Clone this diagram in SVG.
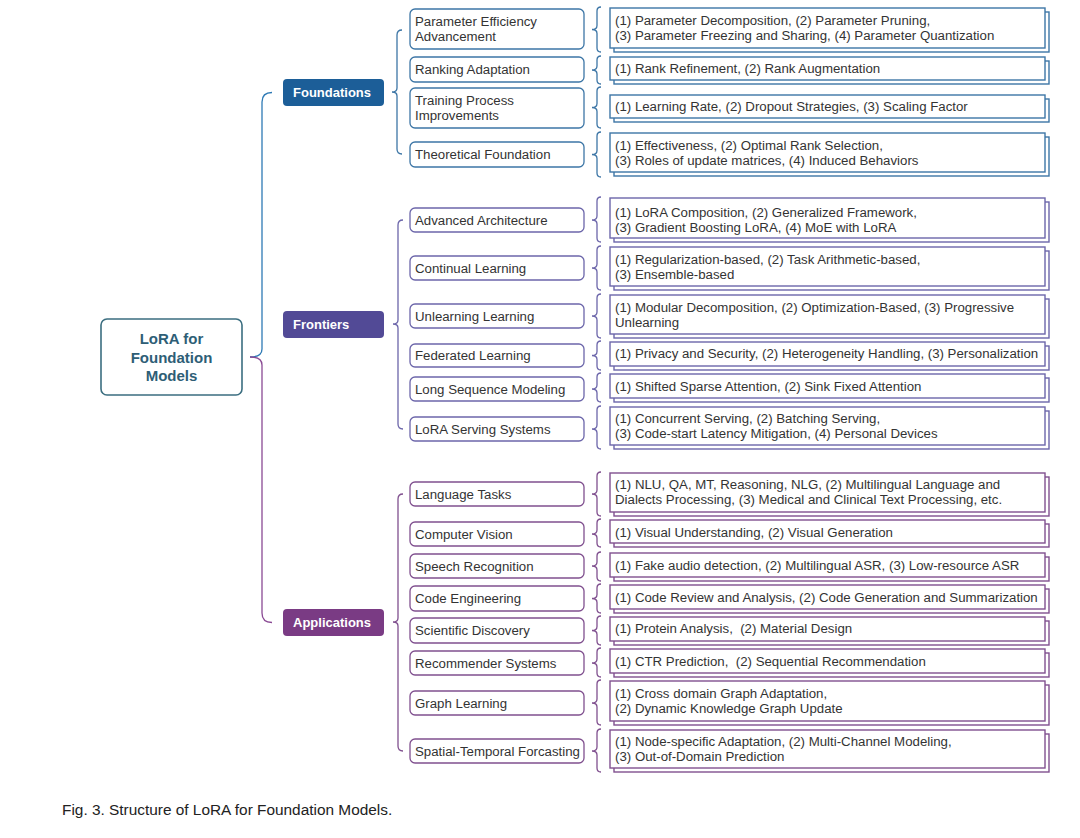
<svg xmlns="http://www.w3.org/2000/svg" width="1080" height="838" viewBox="0 0 1080 838">
<style>
text{font-family:"Liberation Sans",Arial,sans-serif;white-space:pre}
.bg{fill:#ffffff}
.t{font-size:13.25px;fill:#333333}
.cat{font-size:13px;font-weight:bold;fill:#ffffff}
.root{font-size:15px;font-weight:bold;fill:#2e5e76}
.cap{font-size:15.4px;fill:#222222}
.br{fill:none;stroke-width:1.3}
.sub{fill:#ffffff;stroke-width:1.3}
.det{fill:#ffffff;stroke-width:1.4}
.F .br,.F .sub,.F .det{stroke:#3d76a6}
.R .br,.R .sub,.R .det{stroke:#6c66aa}
.A .br,.A .sub,.A .det{stroke:#80508f}
</style>
<rect class="bg" x="0" y="0" width="1080" height="838"/>

<g id="connectors">
  <path class="br" stroke="#2e7ab5" d="M272 92.5 Q262 92.5 262 102 V349 Q262 357 250 357"/>
  <path class="br" stroke="#8a4a94" d="M250 357 Q262 357 262 365 V613 Q262 622.5 272 622.5"/>
  <g class="F">
    <path class="br" d="M402 30 Q397 30 397 35 V88 Q397 92 392 92 Q397 92 397 96 V149 Q397 154 402 154"/>
    <path class="br" d="M601 7 Q597 7 597 11 V25.5 Q597 29.5 592 29.5 Q597 29.5 597 33.5 V48 Q597 52 601 52"/>
    <path class="br" d="M601 56 Q597 56 597 60 V66 Q597 70 592 70 Q597 70 597 74 V80 Q597 84 601 84"/>
    <path class="br" d="M601 87 Q597 87 597 91 V103.5 Q597 107.5 592 107.5 Q597 107.5 597 111.5 V124 Q597 128 601 128"/>
    <path class="br" d="M601 132 Q597 132 597 136 V150.5 Q597 154.5 592 154.5 Q597 154.5 597 158.5 V173 Q597 177 601 177"/>
  </g>
  <g class="R">
    <path class="br" d="M403 220 Q398 220 398 225 V320 Q398 324 393 324 Q398 324 398 328 V424 Q398 429 403 429"/>
    <path class="br" d="M601 197 Q597 197 597 201 V216 Q597 220 592 220 Q597 220 597 224 V238 Q597 242 601 242"/>
    <path class="br" d="M601 246 Q597 246 597 250 V264 Q597 268 592 268 Q597 268 597 272 V286 Q597 290 601 290"/>
    <path class="br" d="M601 294 Q597 294 597 298 V312 Q597 316 592 316 Q597 316 597 320 V334 Q597 338 601 338"/>
    <path class="br" d="M601 341 Q597 341 597 345 V351.5 Q597 355.5 592 355.5 Q597 355.5 597 359.5 V366 Q597 370 601 370"/>
    <path class="br" d="M601 373 Q597 373 597 377 V385 Q597 389 592 389 Q597 389 597 393 V398 Q597 402 601 402"/>
    <path class="br" d="M601 406 Q597 406 597 410 V425 Q597 429 592 429 Q597 429 597 433 V445 Q597 449 601 449"/>
  </g>
  <g class="A">
    <path class="br" d="M403 494 Q398 494 398 499 V618 Q398 622 393 622 Q398 622 398 626 V746 Q398 751 403 751"/>
    <path class="br" d="M601 472 Q597 472 597 476 V490 Q597 494 592 494 Q597 494 597 498 V512 Q597 516 601 516"/>
    <path class="br" d="M601 519 Q597 519 597 523 V530 Q597 534 592 534 Q597 534 597 538 V543 Q597 547 601 547"/>
    <path class="br" d="M601 552 Q597 552 597 556 V562 Q597 566 592 566 Q597 566 597 570 V577 Q597 581 601 581"/>
    <path class="br" d="M601 584 Q597 584 597 588 V594.5 Q597 598.5 592 598.5 Q597 598.5 597 602.5 V609 Q597 613 601 613"/>
    <path class="br" d="M601 616 Q597 616 597 620 V626.5 Q597 630.5 592 630.5 Q597 630.5 597 634.5 V641 Q597 645 601 645"/>
    <path class="br" d="M601 648 Q597 648 597 652 V659 Q597 663 592 663 Q597 663 597 667 V673 Q597 677 601 677"/>
    <path class="br" d="M601 680 Q597 680 597 684 V699 Q597 703 592 703 Q597 703 597 707 V721 Q597 725 601 725"/>
    <path class="br" d="M601 729 Q597 729 597 733 V747 Q597 751 592 751 Q597 751 597 755 V768 Q597 772 601 772"/>
  </g>
</g>

<g id="root">
  <rect x="101" y="319" width="141" height="76" rx="6" fill="#ffffff" stroke="#3b6e80" stroke-width="1.6"/>
  <text class="root" x="171.5" y="344" text-anchor="middle">LoRA for</text>
  <text class="root" x="171.5" y="362.5" text-anchor="middle">Foundation</text>
  <text class="root" x="171.5" y="381" text-anchor="middle">Models</text>
</g>

<g id="cat-foundations"><rect x="283" y="79" width="101" height="27" rx="4" fill="#1c5e98"/><text class="cat" x="293" y="96.5">Foundations</text></g>
<g id="cat-frontiers"><rect x="283" y="311" width="101" height="27" rx="4" fill="#524a96"/><text class="cat" x="293" y="328.5">Frontiers</text></g>
<g id="cat-applications"><rect x="283" y="609" width="101" height="27" rx="4" fill="#7a3b84"/><text class="cat" x="293" y="626.5">Applications</text></g>

<g class="F">
  <g id="sub-pea"><rect class="sub" x="410" y="9" width="174" height="40" rx="5"/><text class="t" x="415" y="26">Parameter Efficiency</text><text class="t" x="415" y="41">Advancement</text></g>
  <g id="det-pea"><rect class="det" x="614" y="12" width="435" height="40"/><rect class="det" x="610" y="8" width="435" height="40"/><text class="t" x="615" y="25">(1) Parameter Decomposition, (2) Parameter Pruning,</text><text class="t" x="615" y="40">(3) Parameter Freezing and Sharing, (4) Parameter Quantization</text></g>
  <g id="sub-rank"><rect class="sub" x="410" y="57" width="174" height="25" rx="5"/><text class="t" x="415" y="74">Ranking Adaptation</text></g>
  <g id="det-rank"><rect class="det" x="614" y="61" width="435" height="23"/><rect class="det" x="610" y="57" width="435" height="23"/><text class="t" x="615" y="73">(1) Rank Refinement, (2) Rank Augmentation</text></g>
  <g id="sub-train"><rect class="sub" x="410" y="88" width="174" height="40" rx="5"/><text class="t" x="415" y="105">Training Process</text><text class="t" x="415" y="120">Improvements</text></g>
  <g id="det-train"><rect class="det" x="614" y="99" width="435" height="23"/><rect class="det" x="610" y="95" width="435" height="23"/><text class="t" x="615" y="111">(1) Learning Rate, (2) Dropout Strategies, (3) Scaling Factor</text></g>
  <g id="sub-theory"><rect class="sub" x="410" y="142" width="174" height="25" rx="5"/><text class="t" x="415" y="159">Theoretical Foundation</text></g>
  <g id="det-theory"><rect class="det" x="614" y="137" width="435" height="39"/><rect class="det" x="610" y="133" width="435" height="39"/><text class="t" x="615" y="150">(1) Effectiveness, (2) Optimal Rank Selection,</text><text class="t" x="615" y="165">(3) Roles of update matrices, (4) Induced Behaviors</text></g>
</g>

<g class="R">
  <g id="sub-arch"><rect class="sub" x="410" y="208" width="174" height="24" rx="5"/><text class="t" x="415" y="224.5">Advanced Architecture</text></g>
  <g id="det-arch"><rect class="det" x="614" y="202" width="435" height="40"/><rect class="det" x="610" y="198" width="435" height="40"/><text class="t" x="615" y="216.5">(1) LoRA Composition, (2) Generalized Framework,</text><text class="t" x="615" y="231.5">(3) Gradient Boosting LoRA, (4) MoE with LoRA</text></g>
  <g id="sub-cont"><rect class="sub" x="410" y="256" width="174" height="24" rx="5"/><text class="t" x="415" y="272.5">Continual Learning</text></g>
  <g id="det-cont"><rect class="det" x="614" y="251" width="435" height="39"/><rect class="det" x="610" y="247" width="435" height="39"/><text class="t" x="615" y="263.5">(1) Regularization-based, (2) Task Arithmetic-based,</text><text class="t" x="615" y="278.5">(3) Ensemble-based</text></g>
  <g id="sub-unl"><rect class="sub" x="410" y="304" width="174" height="24" rx="5"/><text class="t" x="415" y="320.5">Unlearning Learning</text></g>
  <g id="det-unl"><rect class="det" x="614" y="299" width="435" height="39"/><rect class="det" x="610" y="295" width="435" height="39"/><text class="t" x="615" y="311.5">(1) Modular Decomposition, (2) Optimization-Based, (3) Progressive</text><text class="t" x="615" y="326.5">Unlearning</text></g>
  <g id="sub-fed"><rect class="sub" x="410" y="344" width="174" height="23" rx="5"/><text class="t" x="415" y="360">Federated Learning</text></g>
  <g id="det-fed"><rect class="det" x="614" y="346" width="435" height="24"/><rect class="det" x="610" y="342" width="435" height="24"/><text class="t" x="615" y="358">(1) Privacy and Security, (2) Heterogeneity Handling, (3) Personalization</text></g>
  <g id="sub-long"><rect class="sub" x="410" y="377" width="174" height="24" rx="5"/><text class="t" x="415" y="393.5">Long Sequence Modeling</text></g>
  <g id="det-long"><rect class="det" x="614" y="378" width="435" height="24"/><rect class="det" x="610" y="374" width="435" height="24"/><text class="t" x="615" y="390.5">(1) Shifted Sparse Attention, (2) Sink Fixed Attention</text></g>
  <g id="sub-serv"><rect class="sub" x="410" y="417" width="174" height="24" rx="5"/><text class="t" x="415" y="433.5">LoRA Serving Systems</text></g>
  <g id="det-serv"><rect class="det" x="614" y="411" width="435" height="38"/><rect class="det" x="610" y="407" width="435" height="38"/><text class="t" x="615" y="423">(1) Concurrent Serving, (2) Batching Serving,</text><text class="t" x="615" y="438">(3) Code-start Latency Mitigation, (4) Personal Devices</text></g>
</g>

<g class="A">
  <g id="sub-lang"><rect class="sub" x="410" y="482" width="174" height="24" rx="5"/><text class="t" x="415" y="498.5">Language Tasks</text></g>
  <g id="det-lang"><rect class="det" x="614" y="477" width="435" height="39"/><rect class="det" x="610" y="473" width="435" height="39"/><text class="t" x="615" y="489">(1) NLU, QA, MT, Reasoning, NLG, (2) Multilingual Language and</text><text class="t" x="615" y="504">Dialects Processing, (3) Medical and Clinical Text Processing, etc.</text></g>
  <g id="sub-cv"><rect class="sub" x="410" y="522" width="174" height="24" rx="5"/><text class="t" x="415" y="538.5">Computer Vision</text></g>
  <g id="det-cv"><rect class="det" x="614" y="524" width="435" height="23"/><rect class="det" x="610" y="520" width="435" height="23"/><text class="t" x="615" y="536.5">(1) Visual Understanding, (2) Visual Generation</text></g>
  <g id="sub-speech"><rect class="sub" x="410" y="554" width="174" height="24" rx="5"/><text class="t" x="415" y="570.5">Speech Recognition</text></g>
  <g id="det-speech"><rect class="det" x="614" y="557" width="435" height="24"/><rect class="det" x="610" y="553" width="435" height="24"/><text class="t" x="615" y="569.5">(1) Fake audio detection, (2) Multilingual ASR, (3) Low-resource ASR</text></g>
  <g id="sub-code"><rect class="sub" x="410" y="586" width="174" height="25" rx="5"/><text class="t" x="415" y="603">Code Engineering</text></g>
  <g id="det-code"><rect class="det" x="614" y="589" width="435" height="24"/><rect class="det" x="610" y="585" width="435" height="24"/><text class="t" x="615" y="601.5">(1) Code Review and Analysis, (2) Code Generation and Summarization</text></g>
  <g id="sub-sci"><rect class="sub" x="410" y="618" width="174" height="25" rx="5"/><text class="t" x="415" y="635">Scientific Discovery</text></g>
  <g id="det-sci"><rect class="det" x="614" y="621" width="435" height="24"/><rect class="det" x="610" y="617" width="435" height="24"/><text class="t" x="615" y="632.5">(1) Protein Analysis,  (2) Material Design</text></g>
  <g id="sub-rec"><rect class="sub" x="410" y="651" width="174" height="24" rx="5"/><text class="t" x="415" y="667.5">Recommender Systems</text></g>
  <g id="det-rec"><rect class="det" x="614" y="653" width="435" height="24"/><rect class="det" x="610" y="649" width="435" height="24"/><text class="t" x="615" y="665.5">(1) CTR Prediction,  (2) Sequential Recommendation</text></g>
  <g id="sub-graph"><rect class="sub" x="410" y="691" width="174" height="24" rx="5"/><text class="t" x="415" y="707.5">Graph Learning</text></g>
  <g id="det-graph"><rect class="det" x="614" y="685" width="435" height="40"/><rect class="det" x="610" y="681" width="435" height="40"/><text class="t" x="615" y="697.5">(1) Cross domain Graph Adaptation,</text><text class="t" x="615" y="713">(2) Dynamic Knowledge Graph Update</text></g>
  <g id="sub-st"><rect class="sub" x="410" y="739" width="174" height="24" rx="5"/><text class="t" x="415" y="755.5">Spatial-Temporal Forcasting</text></g>
  <g id="det-st"><rect class="det" x="614" y="734" width="435" height="38"/><rect class="det" x="610" y="730" width="435" height="38"/><text class="t" x="615" y="745.5">(1) Node-specific Adaptation, (2) Multi-Channel Modeling,</text><text class="t" x="615" y="761">(3) Out-of-Domain Prediction</text></g>
</g>

<text class="cap" x="62" y="815">Fig. 3. Structure of LoRA for Foundation Models.</text>
</svg>
